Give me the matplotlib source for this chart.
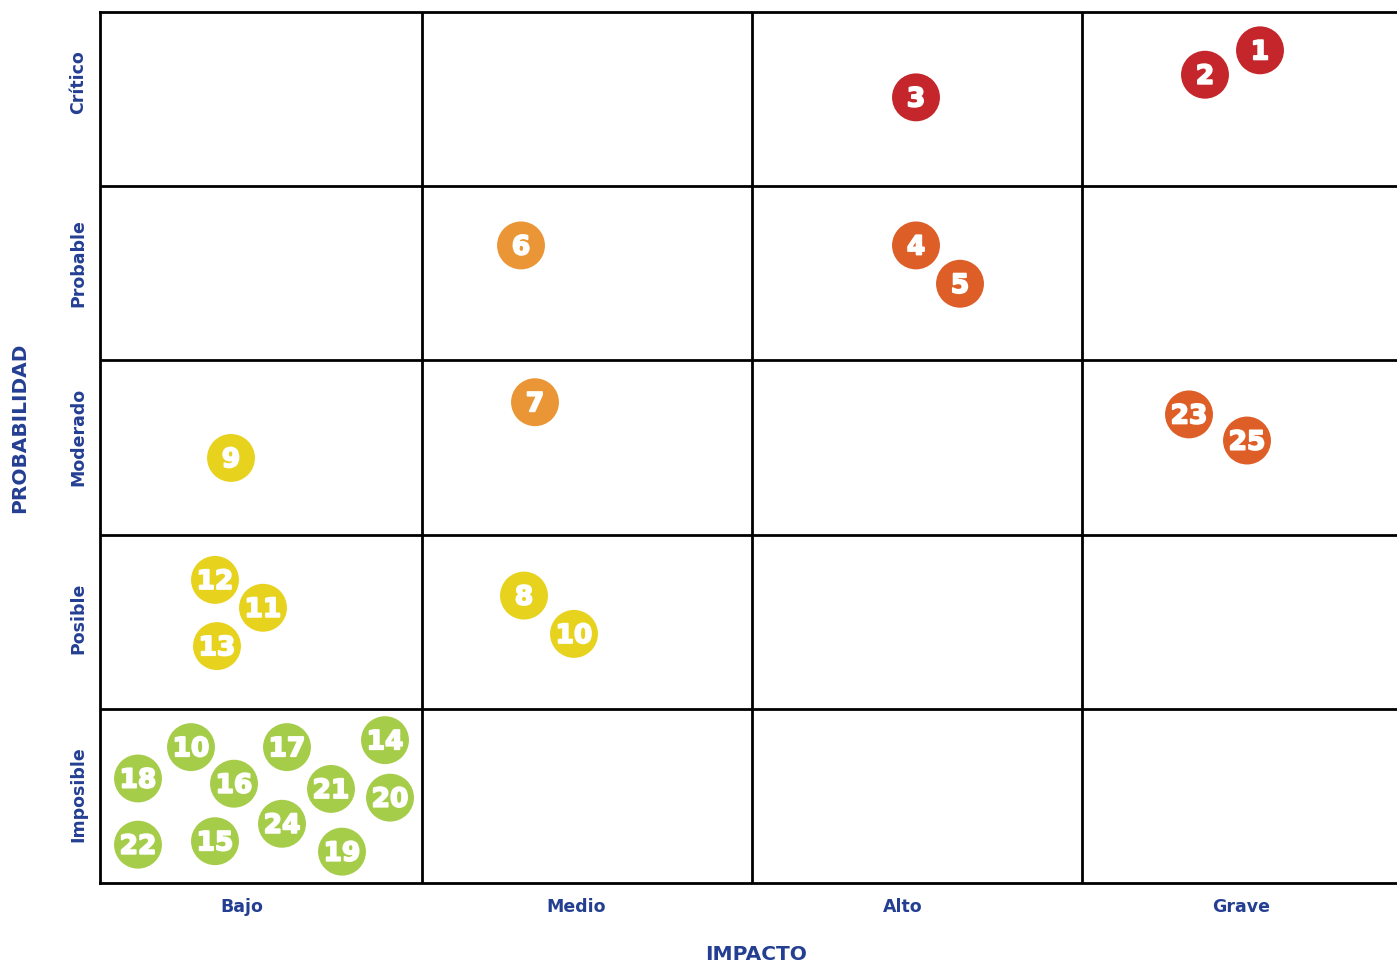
import matplotlib.pyplot as plt
import matplotlib.patheffects as pe
from matplotlib.transforms import offset_copy

# grid layout (x in px-like units from left edge of the matrix, y in row units)
impact_labels = ['Bajo', 'Medio', 'Alto', 'Grave']
impact_ticks = [142, 476, 803, 1141]
col_edges = [322, 652, 982]

prob_labels = ['Imposible', 'Posible', 'Moderado', 'Probable', 'Crítico']
prob_ticks = [0.51, 1.52, 2.56, 3.56, 4.60]
row_edges = [1, 2, 3, 4]

# risks: id, impact position, probability position, level
risk_ids = ['1', '2', '3', '4', '5', '6', '7', '9', '23', '25',
            '12', '11', '13', '8', '10',
            '10', '18', '17', '14', '16', '21', '20', '24', '22', '15', '19']
risk_x = [1160, 1105, 816, 816, 860, 421, 435, 131, 1089, 1147,
          115, 163, 117, 424, 474,
          91, 38, 187, 285, 134, 231, 290, 182, 38, 115, 242]
risk_y = [4.78, 4.64, 4.51, 3.66, 3.44, 3.66, 2.76, 2.44, 2.69, 2.54,
          1.74, 1.58, 1.36, 1.65, 1.43,
          0.78, 0.60, 0.78, 0.82, 0.57, 0.54, 0.49, 0.34, 0.22, 0.24, 0.18]
risk_level = ['critico', 'critico', 'critico', 'alto', 'alto', 'medio', 'medio', 'bajo', 'alto', 'alto',
              'bajo', 'bajo', 'bajo', 'bajo', 'bajo',
              'minimo', 'minimo', 'minimo', 'minimo', 'minimo', 'minimo', 'minimo', 'minimo', 'minimo',
              'minimo', 'minimo']

level_colors = {
    'critico': '#c4262b',
    'alto': '#de5e27',
    'medio': '#ea9636',
    'bajo': '#e7d21e',
    'minimo': '#a6cd4a',
}
BLUE = '#243f92'

fig = plt.figure(figsize=(13.97, 9.63), dpi=100)
ax = fig.add_axes([100 / 1397, 80 / 963, 1297 / 1397, 871 / 963])
ax.set_xlim(0, 1297)
ax.set_ylim(0, 5)

for s in ['left', 'bottom', 'top']:
    ax.spines[s].set_linewidth(2)
    ax.spines[s].set_color('black')
ax.spines['right'].set_visible(False)
for x in col_edges:
    ax.axvline(x, color='black', lw=2)
for y in row_edges:
    ax.axhline(y, color='black', lw=2)

colors = [level_colors[l] for l in risk_level]
ax.scatter(risk_x, risk_y, s=1190, c=colors, linewidths=0, zorder=3)

# heavier digits, a thin white stroke thickens DejaVu bold
txt_tr = offset_copy(ax.transData, fig=fig, x=0, y=-1.5, units='points')
bold_fx = [pe.withStroke(linewidth=1.3, foreground='white')]
for rid, x, y in zip(risk_ids, risk_x, risk_y):
    ax.text(x, y, rid, color='white', fontsize=19, fontweight='bold',
            ha='center', va='center', transform=txt_tr, zorder=4,
            path_effects=bold_fx)

ax.set_xticks(impact_ticks, impact_labels)
ax.set_yticks(prob_ticks, prob_labels, rotation=90, va='center')
ax.tick_params(axis='x', length=0, pad=11, labelsize=12.5, labelcolor=BLUE)
ax.tick_params(axis='y', length=0, pad=9, labelsize=12.5, labelcolor=BLUE)
for lab in ax.get_xticklabels() + ax.get_yticklabels():
    lab.set_fontweight('bold')

fig.text(20 / 1397, 1 - 428 / 963, 'PROBABILIDAD', rotation=90, ha='center', va='center',
         color=BLUE, fontsize=14.5, fontweight='bold')
fig.text(756 / 1397, 1 - 954 / 963, 'IMPACTO', ha='center', va='center',
         color=BLUE, fontsize=14.5, fontweight='bold')

fig.savefig('out.png', dpi=100)
